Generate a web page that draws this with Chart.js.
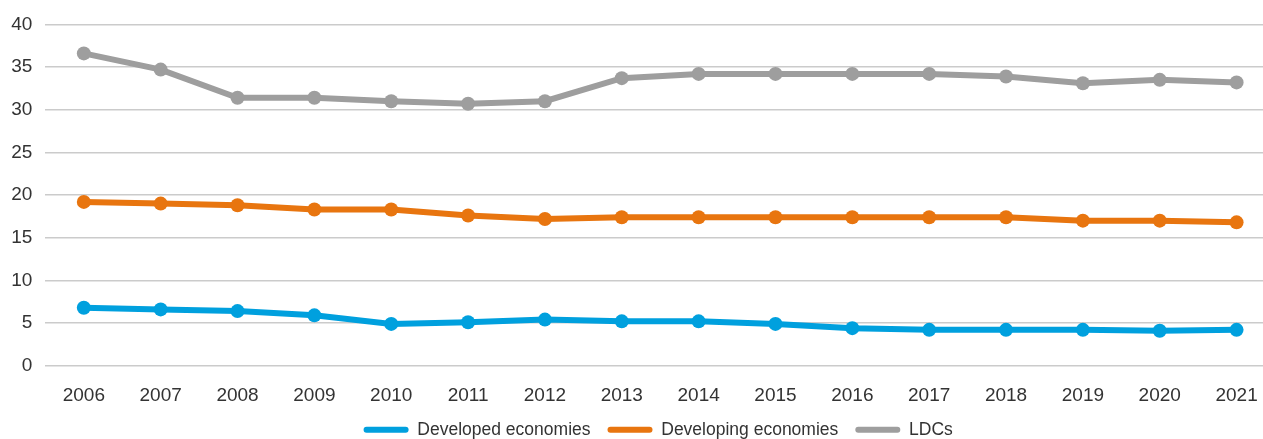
<!DOCTYPE html>
<html>
<head>
<meta charset="utf-8">
<script src="https://cdn.jsdelivr.net/npm/chart.js@4/dist/chart.umd.min.js"></script>
<style>
  html, body { margin: 0; padding: 0; background: #ffffff; overflow: hidden; }
  #wrap { width: 1263px; height: 439px; overflow: hidden; position: relative; }
  #chart { position: absolute; left: 0; top: 0; }
</style>
</head>
<body>
<div id="wrap"><canvas id="chart" width="1282" height="452"></canvas></div>
<script>
// Years on the horizontal axis
const years = ['2006', '2007', '2008', '2009', '2010', '2011', '2012', '2013',
               '2014', '2015', '2016', '2017', '2018', '2019', '2020', '2021'];

// Series values by country group
const developedEconomies = [6.8, 6.6, 6.4, 5.9, 4.9, 5.1, 5.4, 5.2, 5.2, 4.9, 4.4, 4.2, 4.2, 4.2, 4.1, 4.2];
const developingEconomies = [19.2, 19.0, 18.8, 18.3, 18.3, 17.6, 17.2, 17.4, 17.4, 17.4, 17.4, 17.4, 17.4, 17.0, 17.0, 16.8];
const ldcs = [36.6, 34.7, 31.4, 31.4, 31.0, 30.7, 31.0, 33.7, 34.2, 34.2, 34.2, 34.2, 33.9, 33.1, 33.5, 33.2];

// Value axis ticks
const yTicks = [0, 5, 10, 15, 20, 25, 30, 35, 40];

const BLUE = '#00A0DE';
const ORANGE = '#E8750F';
const GREY = '#9E9E9E';

function series(label, data, color) {
  return {
    label: label,
    data: data,
    borderColor: color,
    backgroundColor: color,
    borderWidth: 6,
    pointRadius: 7,
    pointHoverRadius: 7,
    pointBackgroundColor: color,
    pointBorderWidth: 0,
    tension: 0
  };
}

// Moves the legend row a little after layout (dx, dy in pixels)
const legendNudge = {
  id: 'legendNudge',
  afterLayout(chart, args, opts) {
    const lg = chart.legend;
    if (!lg) return;
    lg.left += opts.dx; lg.right += opts.dx;
    lg.top += opts.dy; lg.bottom += opts.dy;
  }
};

new Chart(document.getElementById('chart'), {
  type: 'line',
  data: {
    labels: years,
    datasets: [
      series('Developed economies', developedEconomies, BLUE),
      series('Developing economies', developingEconomies, ORANGE),
      series('LDCs', ldcs, GREY)
    ]
  },
  plugins: [legendNudge],
  options: {
    responsive: false,
    devicePixelRatio: 1,
    animation: false,
    layout: { padding: { top: 14, right: 0, bottom: 0, left: 0 } },
    plugins: {
      tooltip: { enabled: false },
      legendNudge: { dx: -2, dy: -3.5 },
      legend: {
        position: 'bottom',
        fullSize: false,
        labels: {
          boxWidth: 45,
          boxHeight: 6,
          useBorderRadius: true,
          borderRadius: 3,
          padding: 17,
          color: '#333333',
          font: { family: '"Liberation Sans", Arial, sans-serif', size: 17.5 },
          // legend swatches: plain rounded bars in each series colour, no outline
          generateLabels(chart) {
            const items = Chart.defaults.plugins.legend.labels.generateLabels(chart);
            items.forEach(it => { it.lineWidth = 0; it.strokeStyle = 'rgba(0,0,0,0)'; });
            return items;
          }
        }
      }
    },
    scales: {
      x: {
        offset: true,
        grid: { display: false, drawTicks: true, tickLength: 19 },
        border: { display: false },
        ticks: {
          padding: 0,
          color: '#333333',
          maxRotation: 0,
          font: { family: '"Liberation Sans", Arial, sans-serif', size: 19 }
        }
      },
      y: {
        min: 0,
        max: 40,
        afterFit: function (scale) { scale.width = 45.4; },
        afterBuildTicks: function (scale) { scale.ticks = yTicks.map(v => ({ value: v })); },
        grid: { color: '#CBCBCB', lineWidth: 1.6, drawTicks: false },
        border: { display: false },
        ticks: {
          padding: 13,
          color: '#333333',
          font: { family: '"Liberation Sans", Arial, sans-serif', size: 19 }
        }
      }
    }
  }
});
</script>
</body>
</html>
